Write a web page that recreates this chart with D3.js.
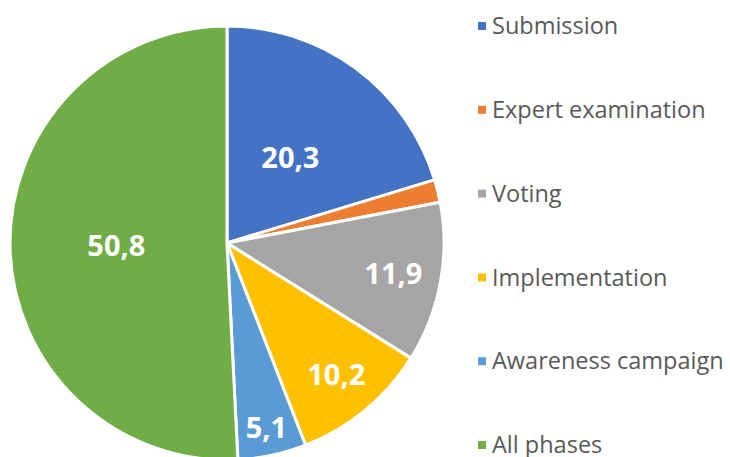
<!DOCTYPE html>
<html><head><meta charset="utf-8">
<script src="https://cdn.jsdelivr.net/npm/d3@7"></script>
<style>body{margin:0;background:#fff}svg{display:block}</style>
</head><body><svg id="c" width="730" height="457"></svg>
<script>
const categories = ["Submission","Expert examination","Voting","Implementation","Awareness campaign","All phases"];
const values = [20.3, 1.7, 11.9, 10.2, 5.1, 50.8];
const labels = ["20,3", "", "11,9", "10,2", "5,1", "50,8"];
const colors = ["#4472C4","#ED7D31","#A5A5A5","#FFC000","#5B9BD5","#70AD47"];
const labelRadiusFactor = [0.49, 0, 0.78, 0.79, 0.87, 0.51];

const svg = d3.select("#c");
const cx = 227, cy = 243, r = 217;
const pie = d3.pie().sort(null).value(d => d)(values);
const arc = d3.arc().innerRadius(0).outerRadius(r);
const g = svg.append("g").attr("transform", `translate(${cx},${cy})`);
g.selectAll("path").data(pie).join("path")
  .attr("d", arc).attr("fill", (d,i) => colors[i])
  .attr("stroke", "#fff").attr("stroke-width", 3).attr("stroke-linejoin","round");
g.selectAll("text").data(pie).join("text")
  .attr("transform", (d,i) => {
    const a = d3.arc().innerRadius(0).outerRadius(2 * r * labelRadiusFactor[i]);
    const [x,y] = a.centroid(d);
    return `translate(${x},${y})`;
  })
  .attr("text-anchor","middle").attr("dy","0.35em")
  .attr("font-family","'Open Sans', sans-serif").attr("font-weight","bold")
  .attr("font-size", 29).attr("fill","#fff")
  .text((d,i) => labels[i]);

const y = d3.scalePoint().domain(categories).range([26, 445]);
const lg = svg.append("g");
const items = lg.selectAll("g").data(categories).join("g")
  .attr("transform", d => `translate(478,${y(d)})`);
items.append("rect").attr("x",0).attr("y",-4).attr("width",8).attr("height",8)
  .attr("fill",(d,i) => colors[i]);
items.append("text").attr("x",14).attr("dy","0.35em")
  .attr("font-family","'Open Sans', sans-serif").attr("font-size",23.5)
  .attr("fill","#595959").text(d => d);
</script></body></html>
